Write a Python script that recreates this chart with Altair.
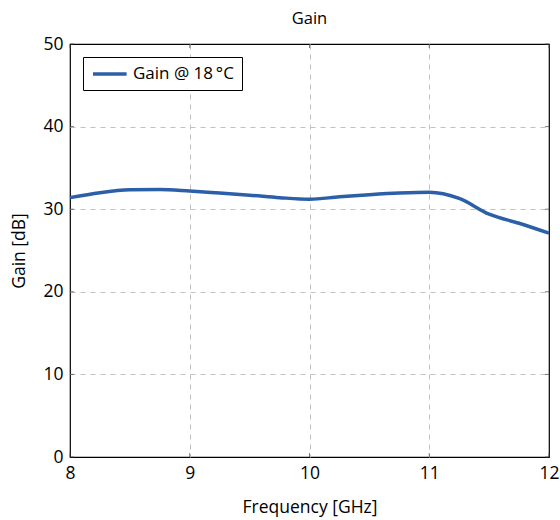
import altair as alt
import pandas as pd

freq_ghz = [8.0, 8.25, 8.5, 8.75, 9.0, 9.25, 9.5, 9.75, 10.0, 10.25, 10.5, 10.75, 11.0, 11.25, 11.5, 11.75, 12.0]
gain_db = [31.4, 32.0, 32.35, 32.4, 32.2, 31.95, 31.7, 31.4, 31.2, 31.5, 31.75, 31.95, 32.05, 31.3, 29.4, 28.3, 27.1]
x_ticks = [8, 9, 10, 11, 12]
y_ticks = [0, 10, 20, 30, 40, 50]
series_name = "Gain @ 18\u2009°C"

df = pd.DataFrame({"Frequency": freq_ghz, "Gain": gain_db, "Series": [series_name] * len(freq_ghz)})
dfx = pd.DataFrame({"Frequency": x_ticks})
dfy = pd.DataFrame({"Gain": y_ticks})

FONT = "Open Sans"
W, H = 479, 413

edge_x = "datum.value == 8 || datum.value == 12"
edge_y = "datum.value == 0 || datum.value == 50"

xscale = alt.Scale(domain=[8, 12], nice=False, zero=False)
yscale = alt.Scale(domain=[0, 50], nice=False)

line = alt.Chart(df).mark_line(strokeWidth=3.5, interpolate="monotone").encode(
    x=alt.X("Frequency:Q", scale=xscale,
            axis=alt.Axis(title="Frequency [GHz]", values=x_ticks, format="d", labelFlush=False,
                          gridOpacity={"condition": {"test": edge_x, "value": 0}, "value": 1})),
    y=alt.Y("Gain:Q", scale=yscale,
            axis=alt.Axis(title="Gain [dB]", values=y_ticks, format="d", labelFlush=False,
                          gridOpacity={"condition": {"test": edge_y, "value": 0}, "value": 1})),
    color=alt.Color("Series:N", scale=alt.Scale(range=["#2b5fa8"]),
                    legend=alt.Legend(title=None, orient="top-left", offset=13,
                                      symbolType="M-1,0H3.8", symbolStrokeWidth=3.5, symbolSize=196,
                                      labelOffset=24,
                                      labelFont=FONT, labelFontSize=17, labelColor="#000",
                                      strokeColor="#000", fillColor="white", padding=8,
                                      cornerRadius=0)),
)

tick_style = dict(color="#444", thickness=1, size=4)
xt_bottom = alt.Chart(dfx).mark_tick(**tick_style).encode(
    x=alt.X("Frequency:Q", scale=xscale), y=alt.value(H - 2))
xt_top = alt.Chart(dfx).mark_tick(**tick_style).encode(
    x=alt.X("Frequency:Q", scale=xscale), y=alt.value(2))
yt_left = alt.Chart(dfy).mark_tick(**tick_style).encode(
    y=alt.Y("Gain:Q", scale=yscale), x=alt.value(2))
yt_right = alt.Chart(dfy).mark_tick(**tick_style).encode(
    y=alt.Y("Gain:Q", scale=yscale), x=alt.value(W - 2))

chart = alt.layer(line, xt_bottom, xt_top, yt_left, yt_right).properties(
    width=W, height=H,
    title=alt.TitleParams("Gain", font=FONT, fontSize=16.5, fontWeight="normal", color="#000", offset=8),
    autosize=alt.AutoSizeParams(type="none"),
    padding={"left": 70, "top": 44, "right": 11, "bottom": 63},
).configure_view(
    stroke="#000", strokeWidth=1.2
).configure_axis(
    labelFont=FONT, labelFontSize=17.5, labelColor="#000",
    titleFont=FONT, titleFontSize=17.5, titleFontWeight="normal", titleColor="#000",
    grid=True, gridColor="#c0c0c0", gridDash=[5, 5], gridWidth=1,
    domain=False, ticks=False, labelPadding=7,
).configure_axisX(titlePadding=17).configure_axisY(titlePadding=14)

chart.save("out.html", embed_options={"renderer": "svg", "actions": False})
